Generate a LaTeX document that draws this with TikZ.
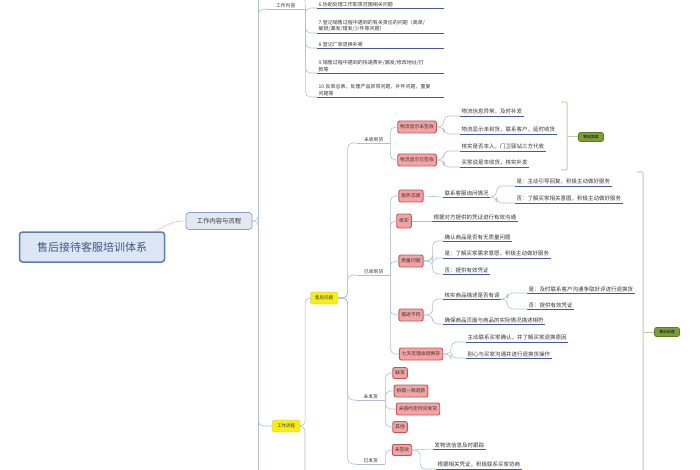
\documentclass[tikz,border=0pt]{standalone}
\usepackage{fontspec}
\setmainfont{Noto Sans CJK SC}
\usetikzlibrary{calc}
\definecolor{linkgray}{HTML}{B2BED2}
\definecolor{rootlink}{HTML}{F0C2BA}
\definecolor{ulinec}{HTML}{4A5898}
\definecolor{txtc}{HTML}{333333}
\definecolor{rootfill}{HTML}{DCE6F4}
\definecolor{rootline}{HTML}{5B7DB6}
\definecolor{topfill}{HTML}{E3E9F3}
\definecolor{topline}{HTML}{8C9EC2}
\definecolor{redfill}{HTML}{F3A3A3}
\definecolor{redline}{HTML}{B85858}
\definecolor{yelfill}{HTML}{F6EE1C}
\definecolor{grnfill}{HTML}{7D9C3C}
\definecolor{grnline}{HTML}{5B7822}
\definecolor{brackc}{HTML}{C9C7A4}

\begin{document}
\begin{tikzpicture}[x=1pt, y=-1pt,
    font=\fontsize{5.5}{6.5}\selectfont, text=txtc,
    conn/.style={draw=linkgray, line width=0.6pt, rounded corners=5pt},
    rootconn/.style={draw=rootlink, line width=0.7pt},
    brack/.style={draw=brackc, line width=1pt, rounded corners=1pt},
    rootbox/.style={draw=rootline, fill=rootfill, line width=1.5pt, rounded corners=3pt, minimum width=145pt, minimum height=30pt, font=\fontsize{11}{13}\selectfont, text=rootline!70!black},
    topicbox/.style={draw=topline, fill=topfill, line width=0.7pt, rounded corners=3pt, minimum width=66pt, minimum height=17pt, font=\fontsize{6.3}{7}\selectfont},
    redbox/.style={draw=redline, fill=redfill, line width=0.9pt, rounded corners=2pt, inner xsep=2.5pt, inner ysep=0pt, minimum height=12pt, font=\fontsize{4.8}{5}\selectfont},
    yelbox/.style={fill=yelfill, draw=yelfill!80!black, line width=0.3pt, rounded corners=1.5pt, minimum width=28pt, minimum height=12pt, inner sep=0pt, font=\fontsize{4.5}{5}\selectfont},
    grnbox/.style={fill=grnfill, draw=grnline, line width=0.6pt, rounded corners=2pt, minimum width=25pt, minimum height=9pt, inner sep=0pt, font=\fontsize{3.8}{4}\selectfont, text=black},
    leaf/.style={anchor=south west, inner xsep=1.5pt, inner ysep=1.3pt, append after command={(\tikzlastnode.south west) edge[draw=ulinec, line width=0.5pt] (\tikzlastnode.south east)}},
    item/.style={leaf, text width=124pt, align=left, font=\fontsize{5}{6.3}\selectfont},
    topic/.style={anchor=south west, inner xsep=1pt, inner ysep=1.3pt, font=\fontsize{4.8}{5.5}\selectfont, append after command={(\tikzlastnode.south west) edge[draw=linkgray, line width=0.6pt] (\tikzlastnode.south east)}}
]
\useasboundingbox (0,0) rectangle (700,470);

% root and first level
\node[rootbox] (root) at (92,247) {售后接待客服培训体系};
\node[topicbox] (flow) at (219,221) {工作内容与流程};
\draw[rootconn] ($(root.north east)+(-10,0)$) .. controls +(14,-8) and +(-12,0) .. (flow.west);

\coordinate (flowtop) at (258,0);
\coordinate (flowbot) at (258,470);
\draw[conn] (flowtop) -- (flowbot);

% work content
\node[topic, minimum width=39pt] (work) at (266,9) {工作内容};
\draw[conn] (flow.east) -- ++(6,0) |- (work.south west);
\coordinate (workup) at (305,0);
\draw[conn] (work.south east) -- (workup);

\node[item] (i6) at (317,8) {6.协助处理工作职责范围相关问题};
\node[item] (i7) at (317,33) {7.登记销售过程中遇到的有关责任的问题（高单/\\破损/漏发/错发/少件等问题）};
\node[item] (i8) at (317,48) {8.登记厂家退换补寄};
\node[item] (i9) at (317,73) {9.销售过程中遇到的快递费补/漏发/修改地址/打\\款等};
\node[item] (i10) at (317,97) {10.反单总表，处理产品异常问题，补件问题，重复\\问题等};
\foreach \n in {i6,i7,i8,i9,i10}
  \draw[conn] (work.south east) |- (\n.south west);

% work flow
\node[yelbox] (proc) at (286,426) {工作流程};
\draw[conn] (flow.east) -- ++(6,0) |- (proc.west);
\node[yelbox, minimum width=27pt] (after) at (324,298) {售后问题};
\draw[conn] (proc.east) -- ++(5,0) |- (after.west);
\coordinate (procdown) at (305,470);
\draw[conn] (proc.east) -| (procdown);

\node[topic, minimum width=33pt] (recvno) at (357,143) {未收到货};
\node[topic, minimum width=33pt] (recvyes) at (357,275) {已收到货};
\node[topic, minimum width=29pt] (sendno) at (356,400) {未发货};
\node[topic, minimum width=29pt] (sendyes) at (356,464) {已发货};
\foreach \n in {recvno,recvyes,sendno,sendyes}
  \draw[conn] (after.east) -- ++(10,0) |- (\n.south west);

% not received
\node[redbox] (nr1) at (417,127) {物流显示未签收};
\node[redbox] (nr2) at (417,160) {物流显示已签收};
\draw[conn] (recvno.south east) |- (nr1.west);
\draw[conn] (recvno.south east) |- (nr2.west);
\node[leaf] (l1) at (460,116) {物流信息异常，及时补发};
\node[leaf] (l2) at (460,134) {物流显示未到货，联系客户，延时收货};
\node[leaf] (l3) at (460,151) {核实是否本人，门卫驿站三方代收};
\node[leaf] (l4) at (460,167) {买家说是本收货，核实补发};
\draw[conn] (nr1.east) -- ++(7,0) |- (l1.south west);
\draw[conn] (nr1.east) -- ++(7,0) |- (l2.south west);
\draw[conn] (nr2.east) -- ++(7,0) |- (l3.south west);
\draw[conn] (nr2.east) -- ++(7,0) |- (l4.south west);

\draw[brack] (561,102) -- (567,102) -- (567,170) -- (561,170);
\node[grnbox] (g1) at (591,137) {物流异常};
\draw[brack] (567,137) -- (g1.west);

% received
\node[redbox] (ns1) at (411,196) {服务态度};
\node[redbox, minimum height=14pt] (ns2) at (404,221) {核实};
\node[redbox] (ns3) at (411,261) {质量问题};
\node[redbox] (ns4) at (411,315) {描述不符};
\node[redbox] (ns5) at (421,354) {七天无理由退换货};
\foreach \n in {ns1,ns2,ns3,ns4,ns5}
  \draw[conn] (recvyes.south east) |- (\n.west);

\node[leaf] (m1) at (443,197) {联系客服询问情况};
\draw[conn] (ns1.east) -- (m1.south west);
\node[leaf] (m1y) at (515,186) {是：主动引导回复，积极主动做好服务};
\node[leaf] (m1n) at (515,203) {否：了解买家相关意图，积极主动做好服务};
\draw[conn] (m1.south east) -- ++(6,0) |- (m1y.south west);
\draw[conn] (m1.south east) -- ++(6,0) |- (m1n.south west);

\node[leaf] (m2) at (432,221) {根据对方提供的凭证进行有效沟通};
\draw[conn] (ns2.east) -- (m2.south west);

\node[leaf] (q1) at (443,241) {确认商品是否有无质量问题};
\node[leaf] (q2) at (443,258) {是：了解买家需求意愿，积极主动做好服务};
\node[leaf] (q3) at (443,274) {否：提供有效凭证};
\foreach \n in {q1,q2,q3}
  \draw[conn] (ns3.east) -- ++(9,0) |- (\n.south west);

\node[leaf] (d1) at (443,299) {核实商品描述是否有误};
\node[leaf] (d2) at (443,324) {确保商品页面与商品的实际情况描述相符};
\draw[conn] (ns4.east) -- ++(9,0) |- (d1.south west);
\draw[conn] (ns4.east) -- ++(9,0) |- (d2.south west);
\node[leaf] (d1y) at (527,293) {是：及时联系客户沟通争取好评进行退换货};
\node[leaf] (d1n) at (527,309) {否：提供有效凭证};
\draw[conn] (d1.south east) -- ++(6,0) |- (d1y.south west);
\draw[conn] (d1.south east) -- ++(6,0) |- (d1n.south west);

\node[leaf] (s1) at (466,342) {主动联系买家确认，并了解买家退换原因};
\node[leaf] (s2) at (466,358) {耐心与买家沟通并进行退换货操作};
\draw[conn] (ns5.east) -- ++(8,0) |- (s1.south west);
\draw[conn] (ns5.east) -- ++(8,0) |- (s2.south west);

\draw[brack] (637,172) -- (643,172) -- (643,470);
\node[grnbox] (g2) at (667,332) {售后处理};
\draw[brack] (643,332) -- (g2.west);

% not sent
\node[redbox, minimum height=11pt] (nm1) at (400,373) {缺货};
\node[redbox] (nm2) at (411,391) {拍错一款退款};
\node[redbox] (nm3) at (418,409) {未按约定时间发货};
\node[redbox, minimum height=11pt] (nm4) at (400,427) {其他};
\foreach \n in {nm1,nm2,nm3,nm4}
  \draw[conn] (sendno.south east) |- (\n.west);

% sent
\node[redbox, minimum height=11pt] (nf1) at (402,450) {未签收};
\draw[conn] (sendyes.south east) |- (nf1.west);
\node[leaf] (f1) at (433,449) {发物流信息及时跟踪};
\node[leaf] (f2) at (436,469) {根据相关凭证，积极联系买家协商};
\draw[conn] (nf1.east) -- (f1.south west);
\draw[conn] (nf1.east) -- ++(8,0) |- (f2.south west);
\end{tikzpicture}
\end{document}
